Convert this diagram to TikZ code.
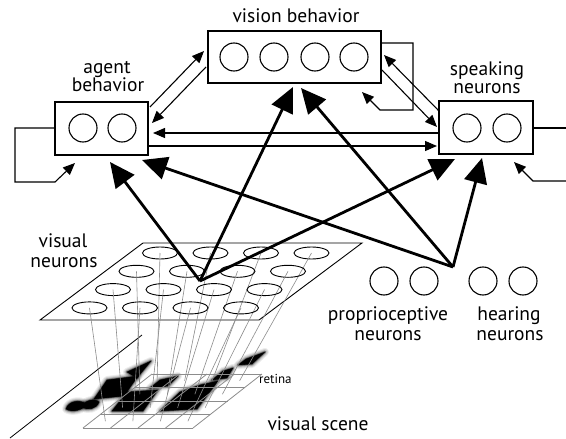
\documentclass[tikz,border=0pt]{standalone}
\usepackage{fontspec}
\setmainfont{PT Sans}
\usetikzlibrary{arrows.meta,shapes.geometric}

% soft-edged black shape for the blurred visual scene
\newcommand\softblob[1]{%
  \foreach \w/\o in {8/0.07,6/0.1,4/0.15,2.5/0.25,1.2/0.45}{%
    \filldraw[black, line width=\w pt, opacity=\o, line join=round] #1;}%
  \fill[black] #1;}

\begin{document}
\begin{tikzpicture}[x=1pt,y=-1pt,
  box/.style={draw, line width=1.3pt, inner sep=0pt, rectangle},
  neuron/.style={draw, circle, line width=1.1pt, minimum size=28pt, inner sep=0pt},
  cell/.style={draw, ellipse, line width=0.9pt, minimum width=35pt, minimum height=12pt, inner sep=0pt},
  lbl/.style={font=\fontsize{19.5}{21}\selectfont, anchor=base, inner sep=0pt},
  small/.style={font=\fontsize{13}{14}\selectfont, anchor=base west, inner sep=0pt},
  thin/.style={line width=1.1pt, -{Triangle[length=12pt,width=10pt]}},
  thick/.style={line width=2.8pt, -{Triangle[length=25pt,width=23pt]}},
  plain/.style={line width=1.1pt},
  fiber/.style={draw=black!45, line width=0.6pt},
  grid/.style={draw=black!45, line width=0.8pt},
]
\useasboundingbox (0,0) rectangle (566,439);
\fill[white] (0,0) rectangle (566,439);

% ---------- visual scene and retina ----------
\draw[line width=0.8pt] (10,438) -- (142,335);

\softblob{(127,372) -- (151,361) -- (137,378) -- cycle}
\softblob{(94,399) -- (107,380) -- (138,376) -- (124,396) -- cycle}
\softblob{(66,409) .. controls (68,401) and (80,399) .. (86,404) .. controls (84,410) and (72,413) .. (66,409) -- cycle}
\softblob{(82,407) .. controls (84,400) and (95,398) .. (99,402) .. controls (97,409) and (87,411) .. (82,407) -- cycle}
\softblob{(112,411) -- (127,392) -- (158,390) -- (143,411) -- cycle}
\softblob{(150,388) -- (160,380) -- (178,376) -- (168,386) -- cycle}
\softblob{(160,411) -- (180,392) -- (200,385) -- (218,381) -- (197,409) -- cycle}
\softblob{(212,380) -- (223,371) -- (233,368) -- (227,378) -- cycle}
\softblob{(238,365) -- (246,359) -- (265,352) -- (252,364) -- cycle}

% retina grid: 4 x 4 cells
\foreach \k in {0,...,4}{
  \draw[grid] ({152-17.25*\k},{374+13.5*\k}) -- ({262-17.25*\k},{374+13.5*\k});
  \draw[grid] ({152+27.5*\k},374) -- ({83+27.5*\k},428);
}
\node[small] (retina) at (259,383) {retina};
\node[lbl] (scene) at (318,430) {visual scene};

% ---------- visual neurons ----------
\draw[line width=0.9pt] (143,243) -- (362,243) -- (259,320) -- (40,320) -- cycle;
\foreach \i in {0,...,3}{
  \foreach \j in {0,...,3}{
    \pgfmathsetmacro\ex{160+50.5*\i-23.5*\j}
    \pgfmathsetmacro\ey{253+18.3*\j}
    \pgfmathsetmacro\rx{152+27.5*(\i+0.5)-17.25*(\j+0.5)}
    \pgfmathsetmacro\ry{374+13.5*(\j+0.5)}
    \node[cell] (e-\i-\j) at (\ex,\ey) {};
    \coordinate (r-\i-\j) at (\rx,\ry);
    \draw[fiber] (e-\i-\j.center) -- (r-\i-\j);
  }
}
\node[lbl] (visA) at (63,247) {visual};
\node[lbl] (visB) at (64,267) {neurons};

% ---------- behaviour boxes ----------
\node[box, minimum width=93pt, minimum height=53pt] (agent) at (101.5,128.5) {};
\node[box, minimum width=173pt, minimum height=52pt] (vision) at (294.5,57) {};
\node[box, minimum width=94pt, minimum height=53pt] (speak) at (486,127.5) {};

\node[neuron] (a1) at (83,128) {};
\node[neuron] (a2) at (122,128) {};
\node[neuron] (v1) at (234,57) {};
\node[neuron] (v2) at (274,57) {};
\node[neuron] (v3) at (315,57) {};
\node[neuron] (v4) at (354,57) {};
\node[neuron] (s1) at (467,128) {};
\node[neuron] (s2) at (507,128) {};
\node[neuron] (p1) at (384,281) {};
\node[neuron] (p2) at (424,281) {};
\node[neuron] (h1) at (483,281) {};
\node[neuron] (h2) at (523,281) {};

\node[lbl] (visionlbl) at (296,23) {vision behavior};
\node[lbl] (agentA) at (107,73) {agent};
\node[lbl] (agentB) at (108,92) {behavior};
\node[lbl] (speakA) at (487,75) {speaking};
\node[lbl] (speakB) at (487,93) {neurons};
\node[lbl] (propA) at (388,320) {proprioceptive};
\node[lbl] (propB) at (388,340) {neurons};
\node[lbl] (hearA) at (509,320) {hearing};
\node[lbl] (hearB) at (510,340) {neurons};

% ---------- thin connections between the boxes ----------
\coordinate (av1) at (150,107); \coordinate (av2) at (204,51);
\coordinate (va1) at (206,67);  \coordinate (va2) at (152,123);
\coordinate (sa1) at (439,133); \coordinate (sa2) at (153,133);
\coordinate (as1) at (148,146); \coordinate (as2) at (437,146);
\coordinate (sv1) at (439,111); \coordinate (sv2) at (384,55);
\coordinate (vs1) at (382,70);  \coordinate (vs2) at (437,127);
\draw[thin] (av1) -- (av2);
\draw[thin] (va1) -- (va2);
\draw[thin] (sa1) -- (sa2);
\draw[thin] (as1) -- (as2);
\draw[thin] (sv1) -- (sv2);
\draw[thin] (vs1) -- (vs2);

% self loops
\coordinate (al0) at (55,128); \coordinate (al1) at (15,128);
\coordinate (al2) at (15,182); \coordinate (al3) at (55,182);
\coordinate (al4) at (75,163);
\draw[thin] (al0) -- (al1) -- (al2) -- (al3) -- (al4);

\coordinate (vl0) at (381,43);  \coordinate (vl1) at (413,43);
\coordinate (vl2) at (413,110); \coordinate (vl3) at (380,110);
\coordinate (vl4) at (362,92);
\draw[thin] (vl0) -- (vl1) -- (vl2) -- (vl3) -- (vl4);

\coordinate (so0) at (533,128); \coordinate (so1) at (566,128);
\draw[plain] (so0) -- (so1);
\coordinate (si0) at (566,181); \coordinate (si1) at (533,181);
\coordinate (si2) at (514,162);
\draw[thin] (si0) -- (si1) -- (si2);

% ---------- thick sensory projections ----------
\coordinate (vapex) at (200,281);
\coordinate (hapex) at (453,267);
\coordinate (ta1) at (110,162); \coordinate (tv1) at (293,87); \coordinate (ts1) at (455,159);
\coordinate (ta2) at (142,160); \coordinate (tv2) at (301,88); \coordinate (ts2) at (482,158);
\draw[thick] (vapex) -- (ta1);
\draw[thick] (vapex) -- (tv1);
\draw[thick] (vapex) -- (ts1);
\draw[thick] (hapex) -- (ta2);
\draw[thick] (hapex) -- (tv2);
\draw[thick] (hapex) -- (ts2);
\end{tikzpicture}
\end{document}
